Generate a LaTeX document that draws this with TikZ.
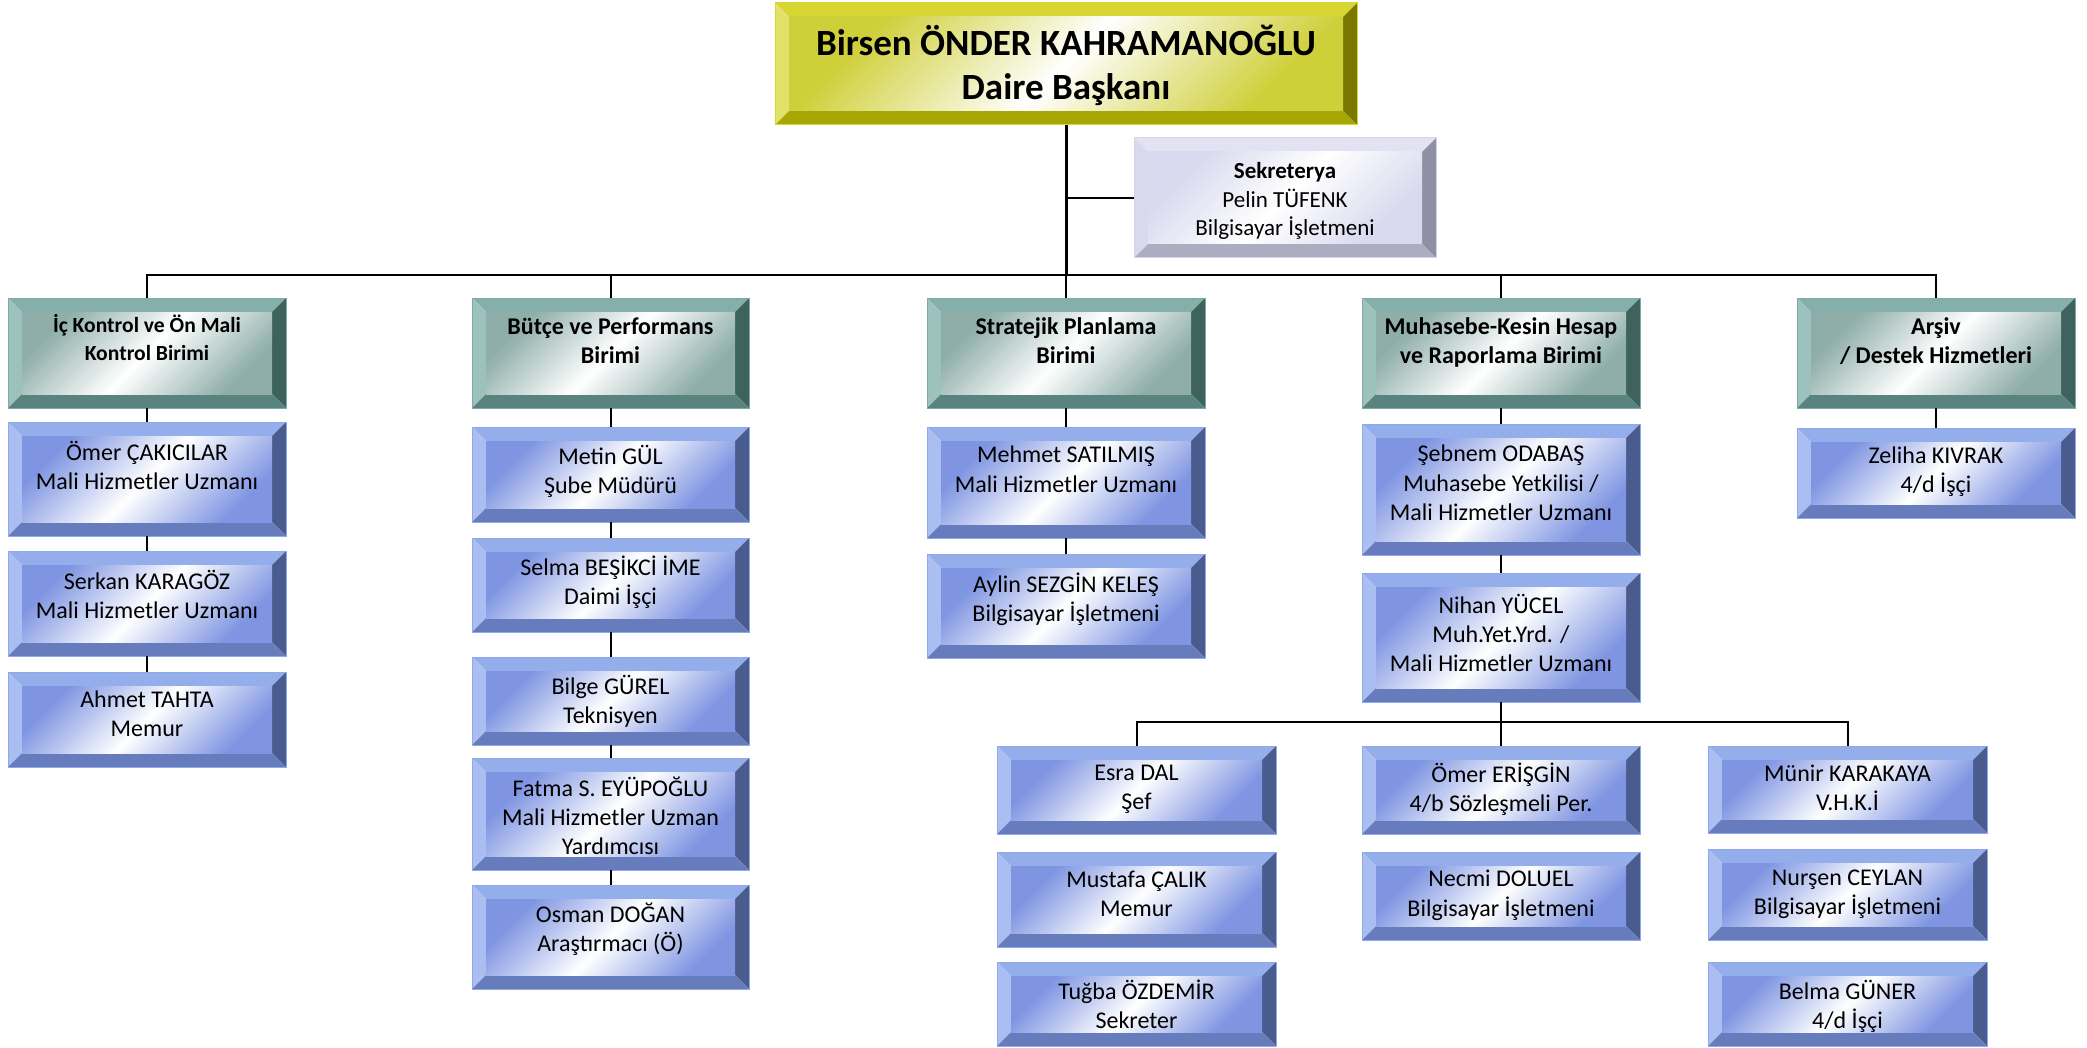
\documentclass[tikz,border=0pt]{standalone}
\usepackage{fontspec}
\setmainfont{Carlito}
\definecolor{bluT}{HTML}{93AEEA}
\definecolor{bluL}{HTML}{ABBEF2}
\definecolor{bluR}{HTML}{4A5B8E}
\definecolor{bluB}{HTML}{677CBC}
\definecolor{bluF}{HTML}{7F95E2}
\definecolor{bluO}{HTML}{8FA8EA}
\definecolor{telT}{HTML}{85AFAB}
\definecolor{telL}{HTML}{9DC1BC}
\definecolor{telR}{HTML}{3E625E}
\definecolor{telB}{HTML}{58837F}
\definecolor{telF}{HTML}{8FAEAA}
\definecolor{telO}{HTML}{7FA9A5}
\definecolor{ylwT}{HTML}{D8D632}
\definecolor{ylwL}{HTML}{E2E26A}
\definecolor{ylwR}{HTML}{7A7800}
\definecolor{ylwB}{HTML}{A8A600}
\definecolor{ylwF}{HTML}{CFCF3A}
\definecolor{ylwO}{HTML}{D8D632}
\definecolor{lavT}{HTML}{E2E2F2}
\definecolor{lavL}{HTML}{D9D9EE}
\definecolor{lavR}{HTML}{8F8FA6}
\definecolor{lavB}{HTML}{ADADC2}
\definecolor{lavF}{HTML}{D8D8EE}
\definecolor{lavO}{HTML}{D4D4EA}
\tikzset{
  bevel/.style 2 args={path picture={
    \coordinate (p1) at (path picture bounding box.north west);
    \coordinate (p2) at (path picture bounding box.north east);
    \coordinate (p3) at (path picture bounding box.south east);
    \coordinate (p4) at (path picture bounding box.south west);
    \coordinate (q1) at ([shift={(#2,-#2)}]p1);
    \coordinate (q2) at ([shift={(-#2,-#2)}]p2);
    \coordinate (q3) at ([shift={(-#2,#2)}]p3);
    \coordinate (q4) at ([shift={(#2,#2)}]p4);
    \fill[#1T] (p1)--(p2)--(q2)--(q1)--cycle;
    \fill[#1L] (p1)--(q1)--(q4)--(p4)--cycle;
    \fill[#1R] (p2)--(p3)--(q3)--(q2)--cycle;
    \fill[#1B] (p4)--(q4)--(q3)--(p3)--cycle;
    \shade[top color=#1F, bottom color=#1F, middle color=white, shading angle=45] (q1) rectangle (q3);
  }},
  box/.style={rectangle, inner sep=0pt, outer sep=0pt, line width=0.5pt},
  blu/.style={box, draw=bluO, bevel={blu}{7pt}},
  tel/.style={box, draw=telO, bevel={tel}{7pt}},
  ylw/.style={box, draw=ylwO, bevel={ylw}{7pt}},
  lav/.style={box, draw=lavO, bevel={lav}{7pt}},
  txt/.style={inner sep=0pt, outer sep=0pt, align=center, text=black, anchor=north,
    font=\fontsize{12}{14.6}\selectfont, execute at begin node=\strut},
  txtb/.style={txt, font=\fontsize{12}{14.6}\selectfont\bfseries},
  txtsm/.style={txt, font=\fontsize{10.8}{14}\selectfont\bfseries},
  txttop/.style={txt, font=\fontsize{18.5}{22}\selectfont\bfseries},
  txtsek/.style={txt, font=\fontsize{11.5}{14.3}\selectfont},
  conn/.style={draw=black, line width=1pt},
  trunk/.style={draw=black, line width=1.5pt},
}
% name, x1, y1, x2, y2, box style, text style, text offset, text
\newcommand\obox[9]{%
  \node[#6, minimum width={(#4-#2)*0.5pt}, minimum height={(#5-#3)*0.5pt}] (#1) at ({(#2+#4)/2},{(#3+#5)/2}) {};
  \node[#7] (#1-t) at ([yshift=-#8]#1.north) {#9};}
\begin{document}
\begin{tikzpicture}[x=0.5pt,y=-0.5pt]
\useasboundingbox[fill=white] (0,0) rectangle (2087,1048);
\coordinate (busL) at (147,275);
\coordinate (sbus) at (1501,722);
\obox{top}{775}{3}{1357}{125}{ylw}{txttop}{10.9pt}{Birsen ÖNDER KAHRAMANOĞLU\\Daire Başkanı}
\obox{sek}{1134}{138}{1436}{258}{lav}{txtsek}{12.3pt}{\textbf{Sekreterya}\\Pelin TÜFENK\\Bilgisayar İşletmeni}
\obox{ick}{8}{298}{286}{408}{tel}{txtsm}{8.3pt}{İç Kontrol ve Ön Mali\\Kontrol Birimi}
\obox{but}{472}{298}{749}{408}{tel}{txtb}{9.9pt}{Bütçe ve Performans\\Birimi}
\obox{str}{927}{298}{1205}{408}{tel}{txtb}{9.9pt}{Stratejik Planlama\\Birimi}
\obox{muh}{1362}{298}{1640}{408}{tel}{txtb}{9.9pt}{Muhasebe-Kesin Hesap\\ve Raporlama Birimi}
\obox{ars}{1797}{298}{2075}{408}{tel}{txtb}{9.9pt}{Arşiv\\/ Destek Hizmetleri}
% column 1
\obox{om1}{8}{422}{286}{536}{blu}{txt}{9.6pt}{Ömer ÇAKICILAR\\Mali Hizmetler Uzmanı}
\obox{ser}{8}{551}{286}{656}{blu}{txt}{9.4pt}{Serkan KARAGÖZ\\Mali Hizmetler Uzmanı}
\obox{ahm}{8}{672}{286}{767}{blu}{txt}{9.4pt}{Ahmet TAHTA\\Memur}
% column 2
\obox{met}{472}{427}{749}{522}{blu}{txt}{9.0pt}{Metin GÜL\\Şube Müdürü}
\obox{sel}{472}{538}{749}{632}{blu}{txt}{9.0pt}{Selma BEŞİKCİ İME\\Daimi İşçi}
\obox{bil}{472}{657}{749}{745}{blu}{txt}{9.0pt}{Bilge GÜREL\\Teknisyen}
\obox{fat}{472}{758}{749}{870}{blu}{txt}{9.4pt}{Fatma S. EYÜPOĞLU\\Mali Hizmetler Uzman\\Yardımcısı}
\obox{osm}{472}{885}{749}{989}{blu}{txt}{9.0pt}{Osman DOĞAN\\Araştırmacı (Ö)}
% column 3
\obox{meh}{927}{427}{1205}{538}{blu}{txt}{9.6pt}{Mehmet SATILMIŞ\\Mali Hizmetler Uzmanı}
\obox{ayl}{927}{554}{1205}{658}{blu}{txt}{9.4pt}{Aylin SEZGİN KELEŞ\\Bilgisayar İşletmeni}
% column 4
\obox{seb}{1362}{424}{1640}{555}{blu}{txt}{10.6pt}{Şebnem ODABAŞ\\Muhasebe Yetkilisi /\\Mali Hizmetler Uzmanı}
\obox{nih}{1362}{573}{1640}{702}{blu}{txt}{10.4pt}{Nihan YÜCEL\\Muh.Yet.Yrd. /\\Mali Hizmetler Uzmanı}
\obox{esr}{997}{746}{1276}{834}{blu}{txt}{9.6pt}{Esra DAL\\Şef}
\obox{mus}{997}{852}{1276}{947}{blu}{txt}{9.6pt}{Mustafa ÇALIK\\Memur}
\obox{tug}{997}{962}{1276}{1046}{blu}{txt}{9.0pt}{Tuğba ÖZDEMİR\\Sekreter}
\obox{ome}{1362}{746}{1640}{834}{blu}{txt}{8.4pt}{Ömer ERİŞGİN\\4/b Sözleşmeli Per.}
\obox{nec}{1362}{852}{1640}{940}{blu}{txt}{9.2pt}{Necmi DOLUEL\\Bilgisayar İşletmeni}
\obox{mun}{1708}{746}{1987}{833}{blu}{txt}{9.6pt}{Münir KARAKAYA\\V.H.K.İ}
\obox{nur}{1708}{849}{1987}{940}{blu}{txt}{10.6pt}{Nurşen CEYLAN\\Bilgisayar İşletmeni}
\obox{bel}{1708}{962}{1987}{1046}{blu}{txt}{9.0pt}{Belma GÜNER\\4/d İşçi}
% column 5
\obox{zel}{1797}{428}{2075}{518}{blu}{txt}{9.2pt}{Zeliha KIVRAK\\4/d İşçi}
% connectors
\draw[trunk] (top.south) -- (top.south |- busL);
\draw[conn] (sek.west) -- (sek.west -| top.south);
\draw[conn] (ick.north) -- (ick.north |- busL) -- (ars.north |- busL) -- (ars.north);
\draw[conn] (but.north) -- (but.north |- busL);
\draw[conn] (str.north |- busL) -- (str.north);
\draw[conn] (muh.north) -- (muh.north |- busL);
\draw[conn] (ick.south) -- (om1.north);
\draw[conn] (om1.south) -- (ser.north);
\draw[conn] (ser.south) -- (ahm.north);
\draw[conn] (but.south) -- (met.north);
\draw[conn] (met.south) -- (sel.north);
\draw[conn] (sel.south) -- (bil.north);
\draw[conn] (bil.south) -- (fat.north);
\draw[conn] (fat.south) -- (osm.north);
\draw[conn] (str.south) -- (meh.north);
\draw[conn] (meh.south) -- (ayl.north);
\draw[conn] (muh.south) -- (seb.north);
\draw[conn] (seb.south) -- (nih.north);
\draw[conn] (nih.south) -- (ome.north);
\draw[conn] (esr.north) -- (esr.north |- sbus) -- (mun.north |- sbus) -- (mun.north);
\draw[conn] (ars.south) -- (zel.north);
\end{tikzpicture}
\end{document}
